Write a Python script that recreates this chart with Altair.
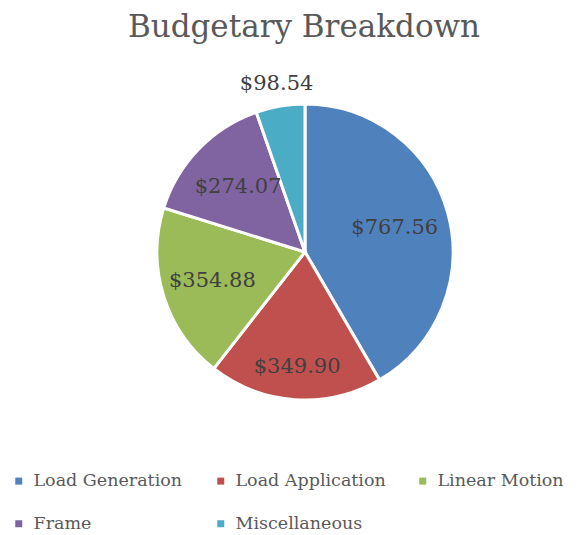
import altair as alt
import pandas as pd

categories = ["Load Generation", "Load Application", "Linear Motion", "Frame", "Miscellaneous"]
values = [767.56, 349.90, 354.88, 274.07, 98.54]
colors = ["#4F81BD", "#C0504D", "#9BBB59", "#8064A2", "#4BACC6"]
label_radius = [93, 115, 97, 93, 170]

df = pd.DataFrame({
    "category": categories,
    "value": values,
    "idx": list(range(len(categories))),
    "lr": label_radius,
})
total = float(sum(values))

FONT = "DejaVu Serif"
CX, CY = 305, 202

pie = alt.Chart(df).mark_arc(stroke="white", strokeWidth=3, radius=148).encode(
    theta=alt.Theta("value:Q", stack=True, scale=alt.Scale(domain=[0, total])),
    order=alt.Order("idx:Q"),
    x=alt.value(CX),
    y=alt.value(CY),
    color=alt.Color(
        "category:N",
        scale=alt.Scale(domain=categories, range=colors),
        legend=alt.Legend(
            title=None,
            orient="none",
            legendX=10,
            legendY=422,
            direction="horizontal",
            columns=3,
            gridAlign="all",
            columnPadding=28,
            rowPadding=24,
            symbolType="square",
            symbolSize=49,
            symbolStrokeWidth=0,
            labelFont=FONT,
            labelFontSize=17.5,
            labelColor="#595959",
            labelOffset=6,
        ),
    ),
)

text = (
    alt.Chart(df)
    .transform_window(cum="sum(value)", sort=[alt.SortField("idx")], frame=[None, 0])
    .transform_calculate(
        mid="datum.cum - datum.value / 2",
        lbl="'$' + format(datum.value, ',.2f')",
    )
    .mark_text(font=FONT, fontSize=21, color="#404040")
    .encode(
        theta=alt.Theta("mid:Q", stack=None, scale=alt.Scale(domain=[0, total])),
        radius=alt.Radius("lr:Q", scale=None),
        x=alt.value(CX),
        y=alt.value(CY),
        text="lbl:N",
    )
)

chart = (
    alt.layer(pie, text)
    .properties(
        width=578,
        height=485,
        padding={"top": 50, "left": 0, "right": 0, "bottom": 0},
        autosize=alt.AutoSizeParams(type="none"),
        title=alt.TitleParams(
            "Budgetary Breakdown",
            font=FONT,
            fontSize=31,
            fontWeight="normal",
            color="#595959",
            anchor="middle",
            dx=15,
            offset=6,
        ),
    )
    .configure_view(stroke=None)
)

chart.save("out.html", embed_options={"renderer": "svg", "actions": False})
